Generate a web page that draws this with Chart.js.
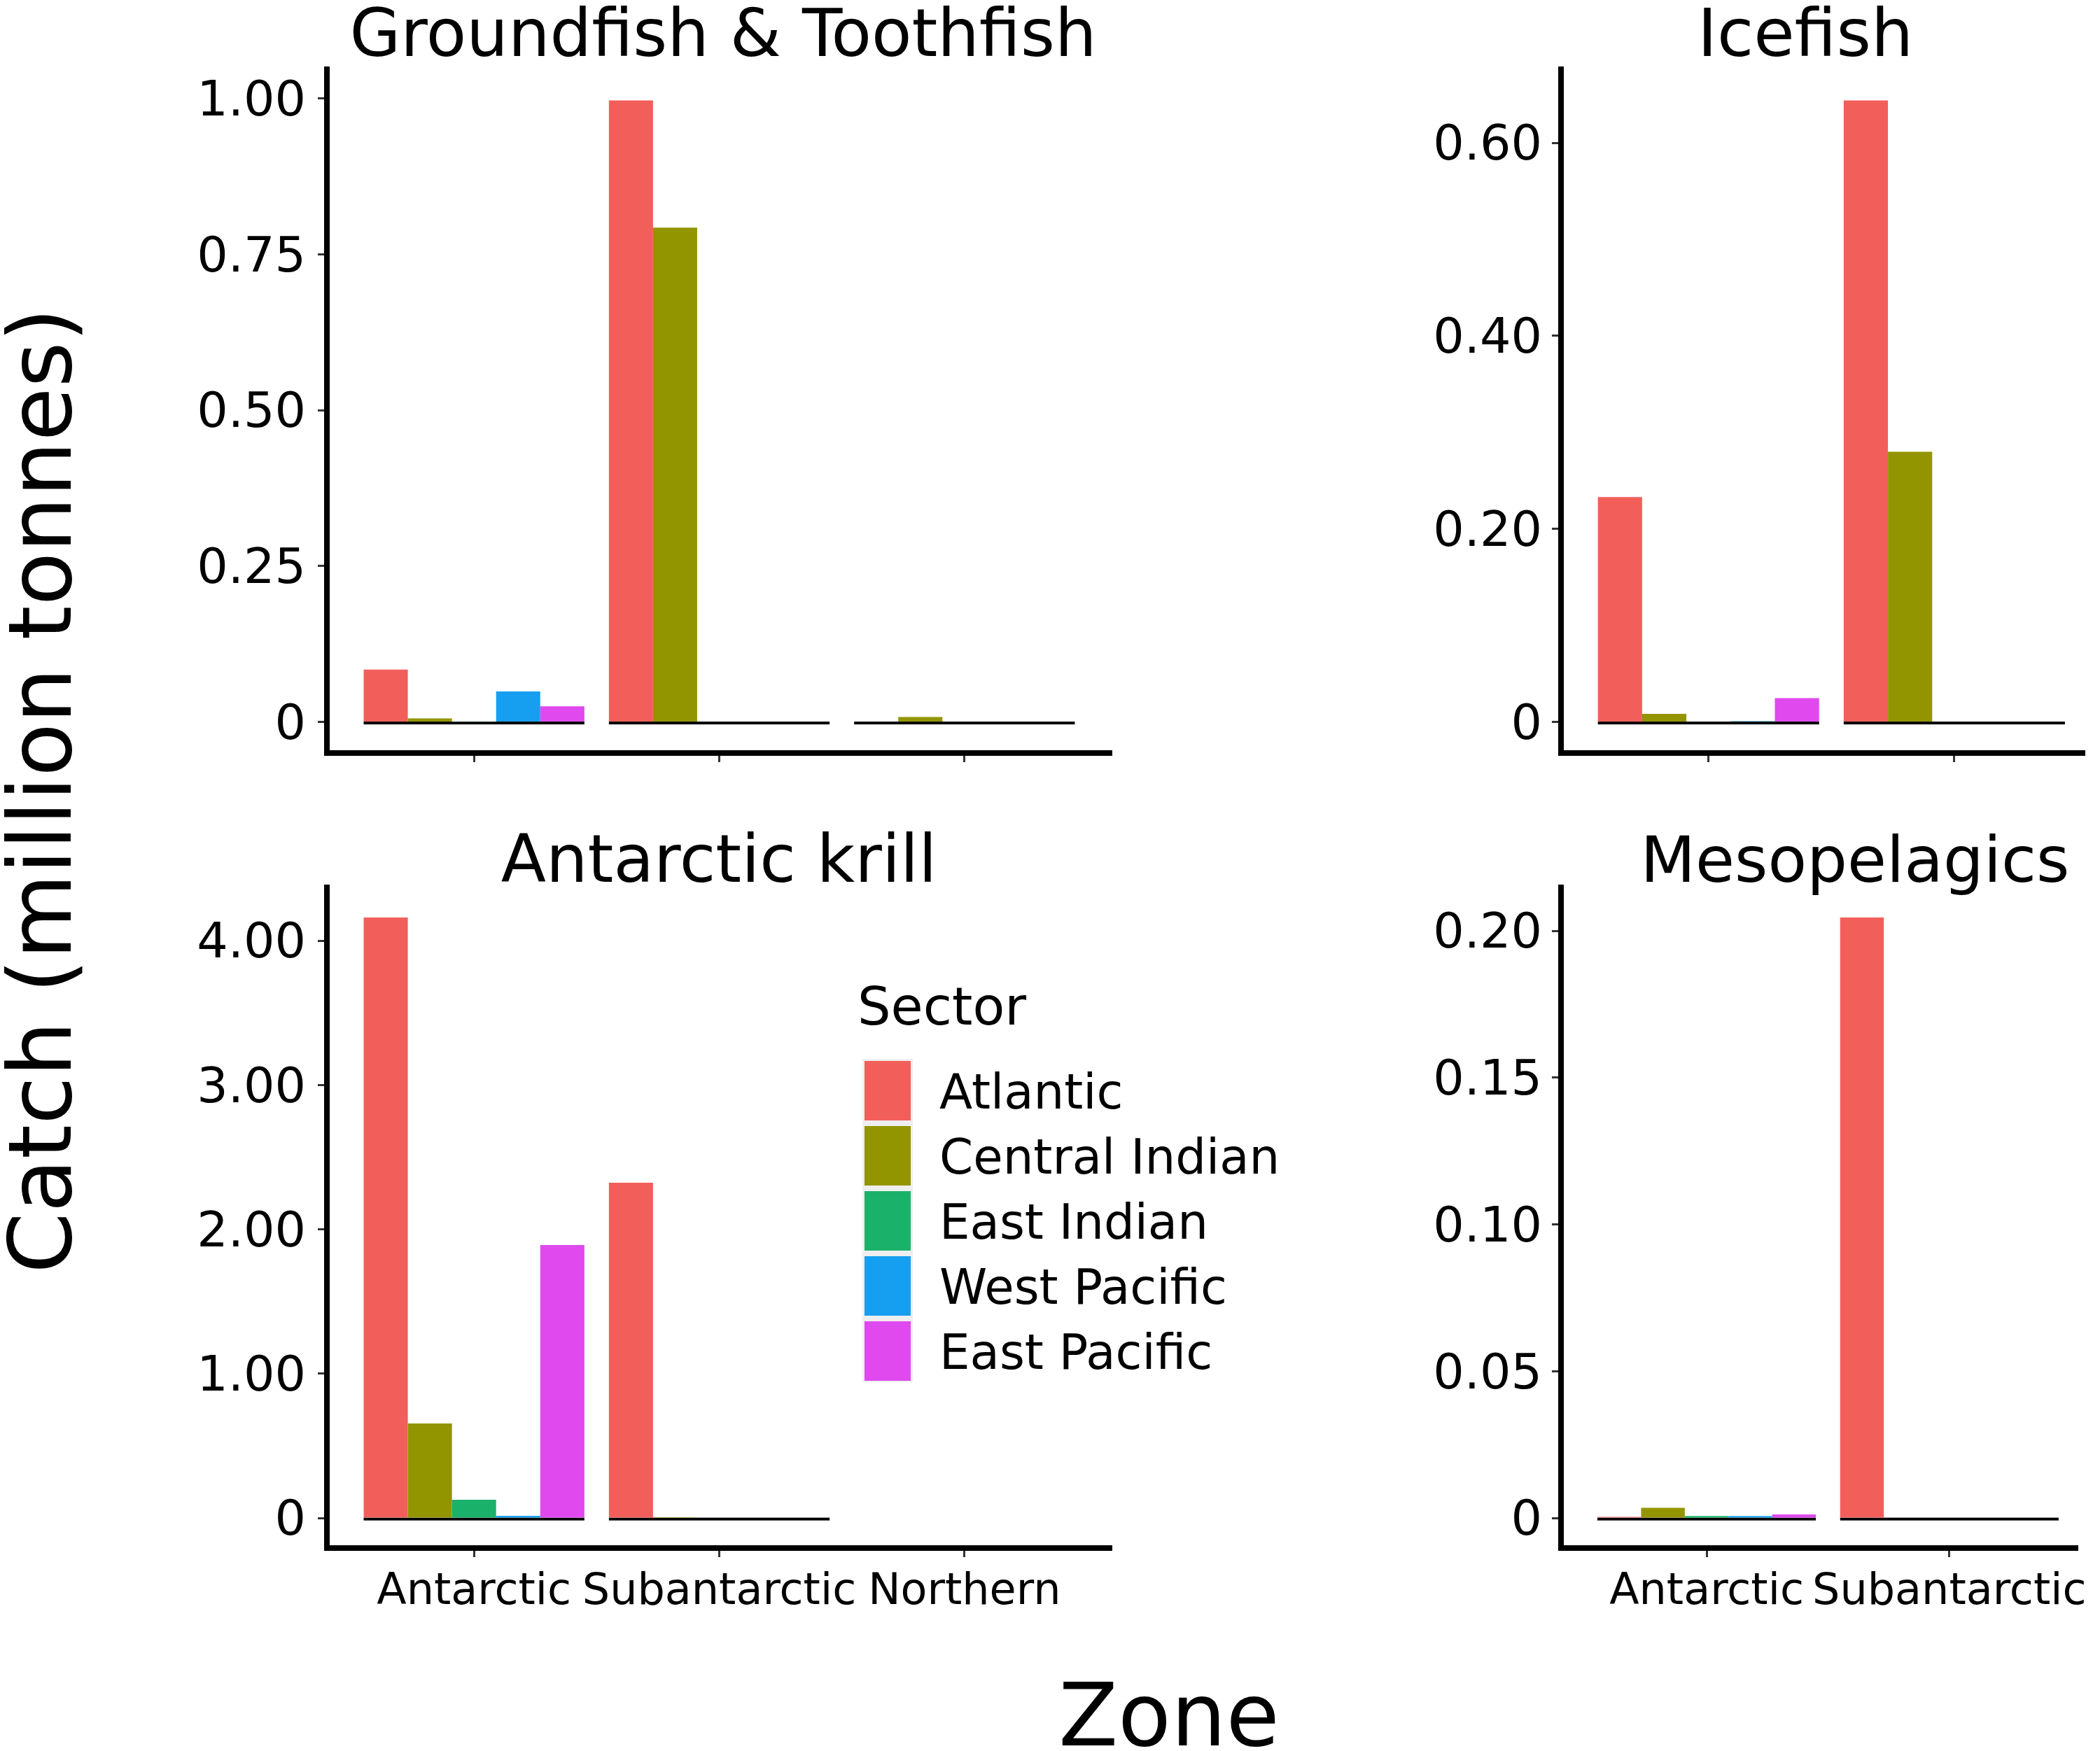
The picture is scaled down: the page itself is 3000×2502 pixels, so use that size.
<!DOCTYPE html>
<html>
<head>
<meta charset="utf-8">
<script src="https://cdn.jsdelivr.net/npm/chart.js@4.4.1/dist/chart.umd.min.js"></script>
<style>
html,body{margin:0;padding:0;background:#fff;}
#page{position:relative;width:3000px;height:2502px;overflow:hidden;background:#fff;font-family:"DejaVu Sans",sans-serif;color:#000;}
#page canvas{position:absolute;}
.txt{position:absolute;white-space:nowrap;color:#000;font-family:"DejaVu Sans",sans-serif;}
.key{position:absolute;}
</style>
</head>
<body>
<div id="page">
  <canvas id="cGround"></canvas>
  <canvas id="cIce"></canvas>
  <canvas id="cKrill"></canvas>
  <canvas id="cMeso"></canvas>
  <div id="legend"></div>
  <div class="txt" id="xTitle">Zone</div>
  <div class="txt" id="yTitle">Catch (million tonnes)</div>
</div>
<script>
// ---------------- data ----------------
const zones3 = ['Antarctic', 'Subantarctic', 'Northern'];
const zones2 = ['Antarctic', 'Subantarctic'];
const sectors = ['Atlantic', 'Central Indian', 'East Indian', 'West Pacific', 'East Pacific'];
const sectorColors = ['#F25F5A', '#939500', '#1AB26B', '#169FF0', '#DF49EE'];

// Groundfish & Toothfish (million tonnes) by zone: Antarctic, Subantarctic, Northern
const groundAtlantic      = [0.084, 0.997, 0];
const groundCentralIndian = [0.0056, 0.793, 0.008];
const groundEastIndian    = [0.0005, 0, 0];
const groundWestPacific   = [0.049, 0, 0];
const groundEastPacific   = [0.025, 0, 0];
const groundTicks = [0, 0.25, 0.5, 0.75, 1.0];

// Icefish by zone: Antarctic, Subantarctic
const iceAtlantic      = [0.233, 0.644];
const iceCentralIndian = [0.0084, 0.280];
const iceEastIndian    = [0, 0];
const iceWestPacific   = [0.0008, 0];
const iceEastPacific   = [0.0248, 0];
const iceTicks = [0, 0.2, 0.4, 0.6];

// Antarctic krill by zone: Antarctic, Subantarctic, Northern (no data)
const krillAtlantic      = [4.161, 2.323, null];
const krillCentralIndian = [0.655, 0.005, null];
const krillEastIndian    = [0.127, 0, null];
const krillWestPacific   = [0.015, 0, null];
const krillEastPacific   = [1.891, 0, null];
const krillTicks = [0, 1, 2, 3, 4];

// Mesopelagics by zone: Antarctic, Subantarctic
const mesoAtlantic      = [0.0004, 0.2046];
const mesoCentralIndian = [0.0035, 0];
const mesoEastIndian    = [0.0007, 0];
const mesoWestPacific   = [0.0007, 0];
const mesoEastPacific   = [0.0012, 0];
const mesoTicks = [0, 0.05, 0.1, 0.15, 0.2];

// ---------------- styling ----------------
const FONT = '"DejaVu Sans", sans-serif';
const GROUP = 0.9;          // dodge width of a zone group
const EXPAND = 0.05;        // ggplot-like multiplicative expansion
const DISCRETE_PAD = 0.6;   // ggplot-like discrete expansion

const decorPlugin = {
  id: 'panelDecor',
  beforeDatasetsDraw(chart, args, opts) {
    const xs = chart.scales.x, ys = chart.scales.y;
    const y0 = ys.getPixelForValue(0);
    const ctx = chart.ctx;
    ctx.save();
    ctx.fillStyle = '#000';
    (opts.groups || []).forEach(v => {
      const l = xs.getPixelForValue(v - GROUP / 2);
      const r = xs.getPixelForValue(v + GROUP / 2);
      ctx.fillRect(l, y0 - 0.5, r - l, 4);
    });
    ctx.restore();
  },
  afterDraw(chart, args, opts) {
    if (!opts.title) return;
    const ctx = chart.ctx;
    ctx.save();
    ctx.font = opts.titleSize + 'px ' + FONT;
    ctx.fillStyle = '#000';
    ctx.textAlign = 'center';
    ctx.textBaseline = 'alphabetic';
    ctx.fillText(opts.title, opts.titleX, opts.titleY);
    ctx.restore();
  }
};

function makePanel(cfg) {
  const canvas = document.getElementById(cfg.id);
  const [bx, by, bw, bh] = cfg.box;
  canvas.width = bw; canvas.height = bh;
  canvas.style.left = bx + 'px'; canvas.style.top = by + 'px';
  canvas.style.width = bw + 'px'; canvas.style.height = bh + 'px';

  const all = cfg.series.flat().filter(v => v !== null);
  const maxVal = Math.max(...all);
  const groups = cfg.zones.map((z, i) => i + 1)
    .filter(v => cfg.series.some(s => s[v - 1] !== null));

  const datasets = sectors.map((name, k) => ({
    label: name,
    data: cfg.series[k].map((v, i) => (v === null ? null : { x: i + 1, y: v })).filter(p => p !== null),
    backgroundColor: sectorColors[k],
    borderWidth: 0,
    barPercentage: 1.0,
    categoryPercentage: GROUP
  }));

  const tickGrid = {
    display: true, drawOnChartArea: false, drawTicks: true,
    tickLength: 13, tickWidth: 3, tickColor: '#333333', offset: false
  };

  new Chart(canvas, {
    type: 'bar',
    data: { datasets },
    plugins: [decorPlugin],
    options: {
      responsive: false,
      animation: false,
      devicePixelRatio: 1,
      events: [],
      layout: {
        padding: {
          left: 0,
          top: cfg.area.top - by,
          right: bx + bw - cfg.area.right,
          bottom: 0
        }
      },
      plugins: {
        legend: { display: false },
        tooltip: { enabled: false },
        title: { display: false },
        panelDecor: {
          groups,
          title: cfg.title,
          titleSize: cfg.titleSize,
          titleX: cfg.titleX - bx,
          titleY: cfg.titleY - by
        }
      },
      scales: {
        x: {
          type: 'linear',
          offset: false,
          min: 1 - DISCRETE_PAD,
          max: cfg.xMax,
          grid: tickGrid,
          border: { display: true, color: '#000', width: 8 },
          afterBuildTicks: s => { s.ticks = cfg.zones.map((z, i) => ({ value: i + 1 })); },
          afterFit: s => { s.height = by + bh - cfg.area.bottom; },
          ticks: {
            display: cfg.showX,
            autoSkip: false,
            maxRotation: 0, minRotation: 0,
            padding: 14,
            color: '#000',
            font: { family: FONT, size: 62 },
            callback: v => cfg.zones[Math.round(v) - 1]
          }
        },
        y: {
          type: 'linear',
          min: -EXPAND * maxVal,
          max: (1 + EXPAND) * maxVal,
          grid: tickGrid,
          border: { display: true, color: '#000', width: 8 },
          afterBuildTicks: s => { s.ticks = cfg.ticks.map(v => ({ value: v })); },
          afterFit: s => { s.width = cfg.area.left - bx; },
          ticks: {
            autoSkip: false,
            padding: cfg.yPad,
            labelOffset: 6,
            color: '#000',
            font: { family: FONT, size: 70 },
            callback: v => (v === 0 ? '0' : v.toFixed(2))
          }
        }
      }
    }
  });
}

makePanel({
  id: 'cGround', box: [200, 0, 1420, 1200],
  area: { left: 467, right: 1588, top: 99, bottom: 1076 },
  zones: zones3, xMax: zones3.length + DISCRETE_PAD, showX: false, yPad: 17,
  series: [groundAtlantic, groundCentralIndian, groundEastIndian, groundWestPacific, groundEastPacific],
  ticks: groundTicks,
  title: 'Groundfish & Toothfish', titleSize: 94, titleX: 1033, titleY: 80
});

makePanel({
  id: 'cIce', box: [1900, 0, 1100, 1200],
  area: { left: 2230, right: 2978, top: 99, bottom: 1076 },
  zones: zones2, xMax: 2.53, showX: false, yPad: 14,
  series: [iceAtlantic, iceCentralIndian, iceEastIndian, iceWestPacific, iceEastPacific],
  ticks: iceTicks,
  title: 'Icefish', titleSize: 95, titleX: 2579, titleY: 80
});

makePanel({
  id: 'cKrill', box: [200, 1180, 1420, 1170],
  area: { left: 467, right: 1588, top: 1268, bottom: 2212 },
  zones: zones3, xMax: zones3.length + DISCRETE_PAD, showX: true, yPad: 17,
  series: [krillAtlantic, krillCentralIndian, krillEastIndian, krillWestPacific, krillEastPacific],
  ticks: krillTicks,
  title: 'Antarctic krill', titleSize: 94, titleX: 1027, titleY: 1260
});

makePanel({
  id: 'cMeso', box: [1900, 1180, 1100, 1170],
  area: { left: 2230, right: 2978, top: 1268, bottom: 2212 },
  zones: zones2, xMax: 2.53, showX: true, yPad: 14,
  series: [mesoAtlantic, mesoCentralIndian, mesoEastIndian, mesoWestPacific, mesoEastPacific],
  ticks: mesoTicks,
  title: 'Mesopelagics', titleSize: 91, titleX: 2650, titleY: 1260
});

// ---------------- legend & axis titles ----------------
(function buildLegend() {
  const page = document.getElementById('page');
  const ASC = 0.928, LH = 1.164;
  function textAt(str, left, baseline, size) {
    const d = document.createElement('div');
    d.className = 'txt';
    d.textContent = str;
    d.style.fontSize = size + 'px';
    d.style.lineHeight = (LH * size) + 'px';
    d.style.left = left + 'px';
    d.style.top = (baseline - ASC * size) + 'px';
    page.appendChild(d);
    return d;
  }
  textAt('Sector', 1225, 1465, 75);
  const strip = document.createElement('div');
  strip.className = 'key';
  strip.style.cssText += 'left:1232px;top:1513px;width:72px;height:462px;background:#efefef;';
  page.appendChild(strip);
  sectors.forEach((s, i) => {
    const k = document.createElement('div');
    k.className = 'key';
    k.style.left = '1235px';
    k.style.top = (1516 + i * 93) + 'px';
    k.style.width = '66px';
    k.style.height = '85px';
    k.style.background = sectorColors[i];
    page.appendChild(k);
    textAt(s, 1342, 1584 + i * 93, 69);
  });

  const xt = document.getElementById('xTitle');
  xt.style.cssText += 'left:1370px;top:' + (2494 - ASC * 124) + 'px;width:600px;text-align:center;font-size:124px;line-height:' + (LH * 124) + 'px;';
  const yt = document.getElementById('yTitle');
  const h = LH * 125;
  yt.style.cssText += 'left:' + (58 - 800) + 'px;top:' + (1130 - h / 2) + 'px;width:1600px;height:' + h + 'px;text-align:center;font-size:125px;line-height:' + h + 'px;transform:rotate(-90deg);transform-origin:50% 50%;';
})();
</script>
</body>
</html>
